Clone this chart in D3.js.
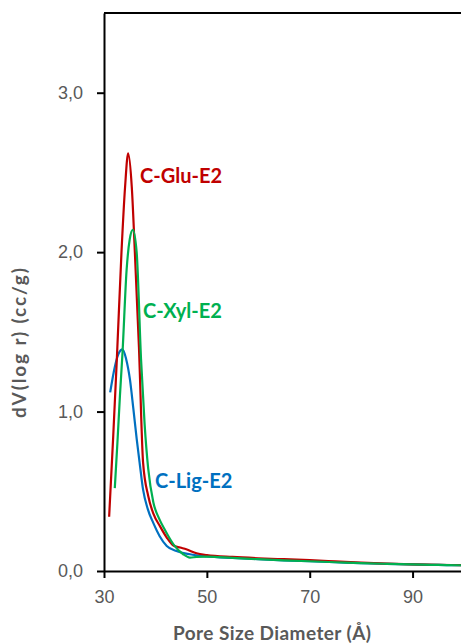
<!DOCTYPE html>
<html>
<head>
<meta charset="utf-8">
<script src="https://cdn.jsdelivr.net/npm/d3@7"></script>
<style>
  body { margin: 0; background: #fff; }
  svg { display: block; font-family: Lato, "Open Sans", sans-serif; }
</style>
</head>
<body>
<svg id="chart" width="461" height="643"></svg>
<script>
// pore size diameter (Å) and dV(log r) (cc/g)
const gluX = [31.0, 31.8, 32.5, 33.4, 34.1, 34.7, 35.4, 36.0, 36.8, 37.6, 38.6, 39.6, 40.9, 42.2, 43.5, 44.8, 46.0, 48.0, 50, 55, 60, 65, 70, 75, 80, 85, 90, 95, 100];
const gluY = [0.34, 0.85, 1.33, 2.00, 2.41, 2.62, 2.41, 2.00, 1.40, 0.68, 0.47, 0.36, 0.28, 0.21, 0.16, 0.147, 0.136, 0.111, 0.10, 0.088, 0.080, 0.074, 0.068, 0.060, 0.052, 0.046, 0.042, 0.039, 0.036];

const xylX = [32.1, 32.6, 33.1, 33.6, 34.4, 35.0, 35.6, 36.35, 37.2, 37.9, 38.6, 39.6, 40.7, 41.8, 43.5, 45.4, 46.7, 48.0, 50, 55, 60, 65, 70, 75, 80, 85, 90, 95, 100];
const xylY = [0.52, 0.80, 1.10, 1.37, 1.89, 2.08, 2.14, 2.00, 1.33, 0.92, 0.64, 0.43, 0.33, 0.26, 0.167, 0.105, 0.084, 0.088, 0.090, 0.082, 0.074, 0.067, 0.061, 0.055, 0.049, 0.045, 0.041, 0.038, 0.036];

const ligX = [31.2, 32.1, 32.8, 33.6, 34.3, 35.05, 35.7, 36.35, 37.0, 37.6, 38.5, 39.6, 40.8, 42.2, 44.1, 46.7, 50, 55, 60, 65, 70, 75, 80, 85, 90, 95, 100];
const ligY = [1.12, 1.28, 1.36, 1.39, 1.33, 1.20, 1.02, 0.83, 0.66, 0.51, 0.39, 0.30, 0.22, 0.157, 0.125, 0.105, 0.092, 0.082, 0.074, 0.067, 0.061, 0.055, 0.049, 0.045, 0.041, 0.038, 0.036];

const seriesNames = ["C-Glu-E2", "C-Xyl-E2", "C-Lig-E2"];
const xTicks = [30, 50, 70, 90];
const yTicks = [0, 1, 2, 3];

const colors = ["#C00000", "#00B050", "#0070C0"];

const margin = { top: 13, right: -3, bottom: 72, left: 104 };
const svgWidth = 461, svgHeight = 643;
const width = svgWidth - margin.left - margin.right;
const height = svgHeight - margin.top - margin.bottom;

const svg = d3.select("#chart");
const g = svg.append("g").attr("transform", `translate(${margin.left},${margin.top})`);

const x = d3.scaleLinear().domain([30, 100]).range([0, width]);
const y = d3.scaleLinear().domain([0, 3.5]).range([height, 0]);

const series = [
  { name: seriesNames[0], xs: gluX, ys: gluY, color: colors[0], lx: 140, ly: 183 },
  { name: seriesNames[1], xs: xylX, ys: xylY, color: colors[1], lx: 143, ly: 318 },
  { name: seriesNames[2], xs: ligX, ys: ligY, color: colors[2], lx: 155, ly: 488 }
];

// frame (top + right)
g.append("path")
  .attr("d", `M0,0H${width}V${height}`)
  .attr("fill", "none")
  .attr("stroke", "#000")
  .attr("stroke-width", 2);

const line = d3.line()
  .x(d => x(d[0]))
  .y(d => y(d[1]))
  .curve(d3.curveMonotoneX);

// blue underneath, then red, green on top
[series[2], series[0], series[1]].forEach(s => {
  g.append("path")
    .datum(s.xs.map((v, i) => [v, s.ys[i]]))
    .attr("fill", "none")
    .attr("stroke", s.color)
    .attr("stroke-width", 2.2)
    .attr("d", line);
});

// axes
const xAxis = g.append("g")
  .attr("transform", `translate(0,${height})`)
  .call(d3.axisBottom(x).tickValues(xTicks).tickSize(7).tickSizeOuter(0).tickPadding(12));
const yAxis = g.append("g")
  .call(d3.axisLeft(y).tickValues(yTicks).tickSize(7).tickSizeOuter(0).tickPadding(14)
    .tickFormat(d => d3.format(".1f")(d).replace(".", ",")));

[xAxis, yAxis].forEach(a => {
  a.select(".domain").attr("stroke", "#000").attr("stroke-width", 2);
  a.selectAll(".tick line").attr("stroke", "#000").attr("stroke-width", 2);
  a.selectAll(".tick text").attr("fill", "#595959").style("font-size", "18px");
});

// series labels
series.forEach(s => {
  svg.append("text")
    .attr("x", s.lx)
    .attr("y", s.ly)
    .attr("fill", s.color)
    .style("font-size", "20px")
    .style("font-weight", "bold")
    .text(s.name);
});

// axis titles
svg.append("text")
  .attr("x", 272)
  .attr("y", 640)
  .attr("text-anchor", "middle")
  .attr("fill", "#595959")
  .attr("textLength", 198)
  .attr("lengthAdjust", "spacing")
  .style("font-size", "19px")
  .style("font-weight", "bold")
  .text("Pore Size Diameter (Å)");

svg.append("text")
  .attr("transform", "translate(26,343) rotate(-90)")
  .attr("text-anchor", "middle")
  .attr("fill", "#595959")
  .attr("textLength", 150)
  .attr("lengthAdjust", "spacing")
  .style("font-size", "19px")
  .style("font-weight", "bold")
  .text("dV(log r) (cc/g)");
</script>
</body>
</html>
